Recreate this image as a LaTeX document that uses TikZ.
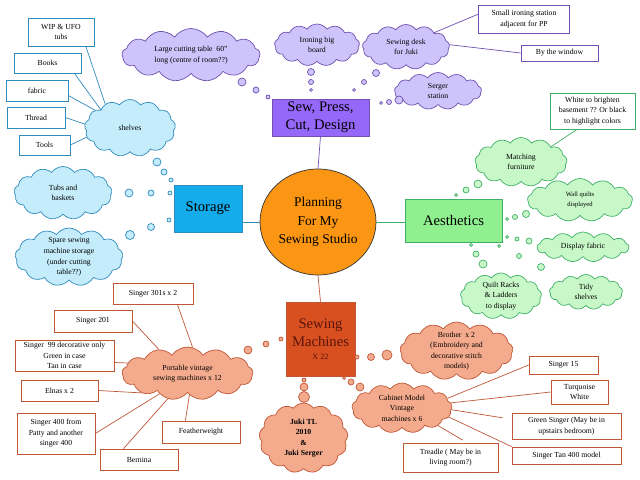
\documentclass[tikz,border=0pt]{standalone}
\usepackage{fontspec}
\setmainfont{Liberation Serif}
\usepackage{xcolor}
\definecolor{sewpurple}{RGB}{150,104,250}
\definecolor{lilac}{RGB}{204,196,250}
\definecolor{lilacline}{RGB}{112,80,176}
\definecolor{storeblue}{RGB}{20,172,235}
\definecolor{skyfill}{RGB}{196,236,250}
\definecolor{skyline}{RGB}{48,140,190}
\definecolor{aesgreen}{RGB}{144,240,144}
\definecolor{mintfill}{RGB}{200,248,200}
\definecolor{mintline}{RGB}{64,176,104}
\definecolor{machred}{RGB}{216,80,32}
\definecolor{machtext}{RGB}{90,20,10}
\definecolor{salmon}{RGB}{244,170,140}
\definecolor{salmonline}{RGB}{192,88,56}
\definecolor{planorange}{RGB}{250,150,20}
\usepackage{tikz}
\usetikzlibrary{shapes.geometric, shapes.symbols, positioning}
\newcommand{\smalltxt}{\fontsize{6.6}{9}\selectfont}
\newcommand{\bigtxt}{\fontsize{12.5}{15.5}\selectfont}

\begin{document}
\begin{tikzpicture}[
    x=0.03cm, y=-0.03cm,
    font=\smalltxt,
    every node/.style={align=center, inner sep=1pt},
    size/.style 2 args={minimum width=#1*0.03cm, minimum height=#2*0.03cm},
    puffy/.style={cloud, cloud puffs=13, cloud puff arc=110, cloud ignores aspect, line width=0.6pt, inner sep=-1pt},
    lilaccloud/.style={puffy, draw=lilacline, fill=lilac},
    skycloud/.style={puffy, draw=skyline, fill=skyfill},
    mintcloud/.style={puffy, draw=mintline, fill=mintfill},
    salmoncloud/.style={puffy, draw=salmonline, fill=salmon},
    notebox/.style={rectangle, fill=white, line width=0.6pt},
    lilacbox/.style={notebox, draw=lilacline},
    skybox/.style={notebox, draw=skyline},
    mintbox/.style={notebox, draw=mintline},
    salmonbox/.style={notebox, draw=salmonline},
    topicbox/.style={rectangle, font=\bigtxt, line width=0.6pt, inner sep=0pt},
    lilacline/.style={draw=lilacline, line width=0.6pt},
    skyline/.style={draw=skyline, line width=0.6pt},
    mintline/.style={draw=mintline, line width=0.6pt},
    salmonline/.style={draw=salmonline, line width=0.6pt}
  ]
  \useasboundingbox (0,0) rectangle (640,480);

  % centre
  \node (plan) [ellipse, draw=black!80, fill=planorange, line width=0.6pt, size={116}{106}, font=\fontsize{11.5}{16}\selectfont] at (318,222) {Planning\\For My\\Sewing Studio};

  % main topics
  \node (sew) [topicbox, draw=lilacline, fill=sewpurple, size={97}{37}] at (320.5,117.5) {Sew, Press,\\Cut, Design};
  \node (storage) [topicbox, draw=skyline, fill=storeblue, size={68}{47}] at (208,208.5) {Storage};
  \node (aes) [topicbox, draw=mintline, fill=aesgreen, size={97}{43}] at (453.5,220.5) {Aesthetics};
  \node (mach) [topicbox, draw=salmonline, fill=machred, text=machtext, size={69}{74}] at (320.5,339) {Sewing\\Machines\\[-4pt]{\fontsize{7}{9}\selectfont X 22}};

  % sew, press, cut, design
  \node (cut) [lilaccloud, size={138}{53}] at (191,55) {Large cutting table~ 60"\\long (centre of room??)};
  \node (ironing) [lilaccloud, size={85}{42}] at (317,45) {Ironing big\\board};
  \node (desk) [lilaccloud, size={87}{45}] at (406,47) {Sewing desk\\for Juki};
  \node (serger) [lilaccloud, size={87}{37}] at (438,91) {Serger\\station};
  \node (smallir) [lilacbox, size={91}{28}] at (524,19) {Small ironing station\\adjacent for PP};
  \node (window) [lilacbox, size={77}{16}] at (559.5,53) {By the window};

  % storage
  \node (shelves) [skycloud, size={91}{57}] at (130,128) {shelves};
  \node (tubs) [skycloud, size={98}{53}] at (63,193) {Tubs and\\baskets};
  \node (spare) [skycloud, size={108}{58}, inner ysep=-7pt] at (69,257) {Spare sewing\\machine storage\\(under cutting\\table??)};
  \node (wip) [skybox, size={66}{28}] at (61,32) {WIP \& UFO\\tubs};
  \node (books) [skybox, size={67}{20}] at (47.5,63) {Books};
  \node (fabric) [skybox, size={62}{21}] at (37,90.5) {fabric};
  \node (thread) [skybox, size={58}{21}] at (36,117.5) {Thread};
  \node (tools) [skybox, size={51}{20}] at (44.5,145) {Tools};

  % aesthetics
  \node (match) [mintcloud, size={92}{49}] at (521,162) {Matching\\furniture};
  \node (wall) [mintcloud, size={105}{43}, font=\fontsize{5.6}{8}\selectfont] at (580,200) {Wall quilts\\displayed};
  \node (dispfab) [mintcloud, size={92}{30}] at (583,247) {Display fabric};
  \node (quilt) [mintcloud, size={81}{46}, inner ysep=-4pt] at (501,296) {Quilt Racks\\\& Ladders\\to display};
  \node (tidy) [mintcloud, size={73}{35}] at (586,292) {Tidy\\shelves};
  \node (brighten) [mintbox, size={85}{36}] at (592.5,111) {White to brighten\\basement ?? Or black\\to highlight colors};

  % sewing machines
  \node (portable) [salmoncloud, size={131}{53}] at (187.5,373.5) {Portable vintage\\sewing machines x 12};
  \node (brother) [salmoncloud, size={113}{58}, inner ysep=-7pt] at (456.5,351) {Brother~ x 2\\(Embroidery and\\decorative stitch\\models)};
  \node (cabinet) [salmoncloud, size={100}{50}, inner ysep=-4pt] at (402,408) {Cabinet Model\\Vintage\\machines x 6};
  \node (juki) [salmoncloud, size={89}{70}, inner ysep=-6pt, font=\smalltxt\bfseries] at (303.5,438) {Juki TL\\2010\\\&\\Juki Serger};
  \node (s301) [salmonbox, size={80}{21}] at (153,293.5) {Singer 301s x 2};
  \node (s201) [salmonbox, size={78}{22}] at (93,321) {Singer 201};
  \node (s99) [salmonbox, size={99}{31}, inner sep=0pt] at (64.5,355.5) {Singer~ 99 decorative only\\Green in case\\Tan in case};
  \node (elnas) [salmonbox, size={77}{21}] at (59.5,390.5) {Elnas x 2};
  \node (s400) [salmonbox, size={78}{41}] at (56,433.5) {Singer 400 from\\Patty and another\\singer 400};
  \node (bernina) [salmonbox, size={78}{21}] at (139,459.5) {Bernina};
  \node (feather) [salmonbox, size={78}{22}] at (201,432) {Featherweight};
  \node (s15) [salmonbox, size={69}{18}] at (563.5,365) {Singer 15};
  \node (turq) [salmonbox, size={57}{24}] at (579.5,392) {Turquoise\\White};
  \node (gsinger) [salmonbox, size={109}{26}] at (566.5,426) {Green Singer (May be in\\upstairs bedroom)};
  \node (tan) [salmonbox, size={109}{17}] at (566.5,455.5) {Singer Tan 400 model};
  \node (treadle) [salmonbox, size={95}{29}] at (450.5,457.5) {Treadle ( May be in\\living room?)};

  % thought bubbles
  \foreach \bx/\by/\br in {242/82/4, 256/90/3, 268/97/2, 311/72/3.5, 311/82/2.5, 311/90/1.5,
      376/73/3.5, 364/82/2.5, 354/90/1.5, 399/100/4, 389/102/2.5, 381/103/1.5}
    \filldraw[lilacline, fill=lilac] (\bx,\by) circle[radius=\br*0.03cm];
  \foreach \bx/\by/\br in {157/162/4, 164/172/3, 171/180/2, 129/193/4, 151/193/3, 170/193/2,
      130/235/4.5, 151/227/3.5, 169/220/2}
    \filldraw[skyline, fill=skyfill] (\bx,\by) circle[radius=\br*0.03cm];
  \foreach \bx/\by/\br in {478/184/4, 466/190/3, 456/195/1.5, 526/214/3.5, 515/217/2.5, 507/219/1.5,
      529/241/3, 517/239/2, 507/237/1.5, 483/264/4, 476/254/3, 471/245/1.5,
      541/267/3.5, 519/256/2.5, 499/246/1.5}
    \filldraw[mintline, fill=mintfill] (\bx,\by) circle[radius=\br*0.03cm];
  \foreach \bx/\by/\br in {248/350/4, 266/344/3, 281/339/2, 387/355/5, 371/357/3.5, 357/357/2,
      360/387/4, 351/382/3, 344/378/1.5, 304/397/5.5, 304/387/4, 304/380/2}
    \filldraw[salmonline, fill=salmon] (\bx,\by) circle[radius=\br*0.03cm];

  % connectors
  \draw[lilacline] (sew.south) -- (plan.north);
  \draw[lilacline] (desk.27) -- (smallir.174);
  \draw[lilacline] (desk.3) -- (window.west);

  \draw[skyline] (storage.east |- plan.west) -- (plan.west);
  \draw[skyline] (wip.-30) -- (shelves.136);
  \draw[skyline] (books.-21) -- (shelves.148);
  \draw[skyline] (fabric.-9) -- (shelves.153);
  \draw[skyline] (thread.east) -- (shelves.175);
  \draw[skyline] (tools.east) -- (shelves.192);

  \draw[mintline] (plan.east) -- (plan.east -| aes.west);
  \draw[mintline] (match.27) -- (brighten.230);

  \draw[salmonline] (plan.south) -- (mach.north);
  \draw[salmonline] (s301.-24) -- (portable.79);
  \draw[salmonline] (s201.east) -- (portable.140);
  \draw[salmonline] (s99.-8) -- (portable.170);
  \draw[salmonline] (elnas.east) -- (portable.203);
  \draw[salmonline] (s400.east) -- (portable.216);
  \draw[salmonline] (bernina.145) -- (portable.232);
  \draw[salmonline] (feather.144) -- (portable.275);
  \draw[salmonline] (cabinet.12) -- (s15.west);
  \draw[salmonline] (cabinet.6) -- (turq.west);
  \draw[salmonline, shorten >=0.27cm] (cabinet.-2) -- (gsinger.173);
  \draw[salmonline] (cabinet.-11) -- (tan.north west);
  \draw[salmonline, shorten >=0.15cm] (cabinet.-26) -- (treadle.42);

\end{tikzpicture}
\end{document}
